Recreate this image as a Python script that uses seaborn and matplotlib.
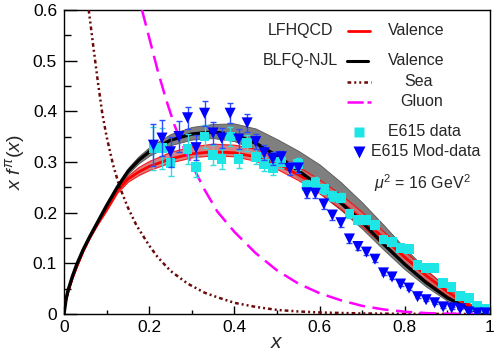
import numpy as np
import pandas as pd
import matplotlib
matplotlib.use("Agg")
import matplotlib.pyplot as plt
import seaborn as sns
from matplotlib.lines import Line2D

# ---------------- data ----------------
x_curve = [0, 0.005, 0.01, 0.02, 0.03, 0.045, 0.06, 0.08, 0.1, 0.125, 0.15, 0.175, 0.2,
           0.25, 0.3, 0.35, 0.4, 0.45, 0.5, 0.55, 0.6, 0.65, 0.7, 0.75, 0.8, 0.85, 0.9, 0.95, 1.0]
blfq_val = [0.0, 0.03, 0.048, 0.075, 0.098, 0.127, 0.152, 0.183, 0.214, 0.25, 0.281, 0.303, 0.32,
            0.343, 0.355, 0.359, 0.354, 0.337, 0.312, 0.283, 0.252, 0.219, 0.181, 0.138, 0.098,
            0.062, 0.032, 0.01, 0.0]
blfq_lo = [0.0, 0.03, 0.048, 0.075, 0.098, 0.127, 0.152, 0.182, 0.212, 0.246, 0.276, 0.297, 0.312,
           0.333, 0.344, 0.347, 0.341, 0.323, 0.298, 0.269, 0.238, 0.205, 0.168, 0.127, 0.088,
           0.054, 0.026, 0.007, 0.0]
blfq_hi = [0.0, 0.03, 0.048, 0.075, 0.098, 0.128, 0.155, 0.187, 0.219, 0.256, 0.288, 0.311, 0.329,
           0.355, 0.369, 0.375, 0.376, 0.366, 0.345, 0.322, 0.295, 0.26, 0.22, 0.176, 0.13,
           0.088, 0.05, 0.019, 0.0]
lfh_val = [0.01, 0.03, 0.046, 0.072, 0.094, 0.124, 0.15, 0.18, 0.207, 0.243, 0.266, 0.28, 0.291,
           0.306, 0.316, 0.32, 0.318, 0.31, 0.295, 0.275, 0.25, 0.221, 0.187, 0.15, 0.112,
           0.076, 0.044, 0.017, 0.0]
lfh_lo = [0.01, 0.03, 0.046, 0.072, 0.094, 0.124, 0.149, 0.178, 0.204, 0.239, 0.261, 0.274, 0.284,
          0.299, 0.309, 0.313, 0.311, 0.302, 0.286, 0.264, 0.238, 0.207, 0.173, 0.136, 0.099,
          0.066, 0.036, 0.012, 0.0]
lfh_hi = [0.01, 0.03, 0.046, 0.072, 0.094, 0.125, 0.152, 0.183, 0.211, 0.248, 0.273, 0.29, 0.302,
          0.32, 0.331, 0.336, 0.334, 0.326, 0.312, 0.291, 0.265, 0.236, 0.201, 0.163, 0.124,
          0.086, 0.052, 0.022, 0.0]

x_sea = [0.058, 0.07, 0.08, 0.09, 0.1, 0.115, 0.13, 0.15, 0.17, 0.2, 0.22, 0.25, 0.29, 0.33,
         0.36, 0.4, 0.45, 0.5, 0.55, 0.6, 0.7, 0.8, 0.9, 1.0]
sea = [0.6, 0.52, 0.455, 0.395, 0.35, 0.295, 0.252, 0.21, 0.175, 0.135, 0.112, 0.085, 0.06,
       0.042, 0.033, 0.022, 0.014, 0.008, 0.005, 0.003, 0.001, 0.0003, 0.0001, 0.0]

x_glu = [0.183, 0.2, 0.22, 0.24, 0.26, 0.28, 0.3, 0.33, 0.36, 0.4, 0.45, 0.5, 0.55, 0.6,
         0.65, 0.7, 0.75, 0.8, 0.85, 0.9, 0.95, 1.0]
gluon = [0.6, 0.545, 0.48, 0.422, 0.371, 0.33, 0.295, 0.245, 0.202, 0.162, 0.12, 0.086, 0.06,
         0.041, 0.027, 0.016, 0.009, 0.0045, 0.0018, 0.0005, 0.0, 0.0]

x_e615 = [0.21, 0.23, 0.25, 0.29, 0.31, 0.33, 0.35, 0.37, 0.39, 0.41, 0.43, 0.45, 0.47, 0.49,
          0.51, 0.55, 0.57, 0.59, 0.61, 0.63, 0.65, 0.67, 0.69, 0.71, 0.73, 0.75, 0.77, 0.79,
          0.81, 0.83, 0.85, 0.87, 0.89, 0.91, 0.93, 0.95, 0.97, 0.99]
y_e615 = [0.327, 0.327, 0.298, 0.325, 0.29, 0.35, 0.314, 0.306, 0.35, 0.306, 0.337, 0.31, 0.296,
          0.288, 0.3, 0.296, 0.253, 0.259, 0.247, 0.233, 0.229, 0.198, 0.186, 0.185, 0.176,
          0.147, 0.142, 0.13, 0.128, 0.097, 0.091, 0.091, 0.061, 0.053, 0.035, 0.031, 0.016, 0.011]
e_e615 = [0.042, 0.04, 0.025, 0.03, 0.02, 0.022, 0.02, 0.02, 0.018, 0.018, 0.016, 0.015, 0.014,
          0.013, 0.012, 0.012, 0.011, 0.011, 0.01, 0.01, 0.009, 0.009, 0.008, 0.008, 0.008,
          0.007, 0.007, 0.006, 0.006, 0.005, 0.005, 0.005, 0.004, 0.004, 0.004, 0.003, 0.003, 0.003]

x_mod = [0.21, 0.23, 0.25, 0.27, 0.29, 0.31, 0.33, 0.35, 0.37, 0.39, 0.41, 0.43, 0.45, 0.47,
         0.49, 0.51, 0.53, 0.55, 0.57, 0.59, 0.61, 0.63, 0.65, 0.67, 0.69, 0.71, 0.73, 0.75,
         0.77, 0.79, 0.81, 0.83, 0.85, 0.87, 0.89, 0.91, 0.93, 0.95, 0.97, 0.99]
y_mod = [0.333, 0.347, 0.32, 0.35, 0.387, 0.328, 0.396, 0.357, 0.347, 0.396, 0.345, 0.377, 0.34,
         0.318, 0.306, 0.31, 0.287, 0.288, 0.239, 0.238, 0.217, 0.195, 0.18, 0.148, 0.133,
         0.122, 0.108, 0.081, 0.073, 0.059, 0.051, 0.034, 0.028, 0.022, 0.014, 0.012, 0.01,
         0.004, 0.002, 0.002]
e_mod = [0.042, 0.035, 0.03, 0.03, 0.022, 0.025, 0.025, 0.022, 0.02, 0.02, 0.02, 0.018, 0.015,
         0.015, 0.013, 0.012, 0.012, 0.01, 0.01, 0.01, 0.01, 0.01, 0.008, 0.008, 0.006, 0.006,
         0.005, 0.005, 0.004, 0.004, 0.003, 0.003, 0.002, 0.002, 0.002, 0.002, 0.001, 0.001,
         0.001, 0.001]

x_ticks = [0, 0.2, 0.4, 0.6, 0.8, 1]
x_ticklabels = ["0", "0.2", "0.4", "0.6", "0.8", "1"]
y_ticks = [0, 0.1, 0.2, 0.3, 0.4, 0.5, 0.6]
y_ticklabels = ["0", "0.1", "0.2", "0.3", "0.4", "0.5", "0.6"]

# ---------------- style ----------------
sns.set_theme(style="ticks")
plt.rcParams["font.family"] = ["Liberation Sans", "DejaVu Sans"]
plt.rcParams["mathtext.fontset"] = "custom"
plt.rcParams["mathtext.rm"] = "Liberation Sans"
plt.rcParams["mathtext.it"] = "Liberation Sans:italic"

fig = plt.figure(figsize=(5.0, 3.52), dpi=100)
ax = fig.add_axes([0.128, 0.108, 0.852, 0.864])

curves = pd.DataFrame({"x": x_curve, "blfq": blfq_val, "blfq_lo": blfq_lo, "blfq_hi": blfq_hi,
                       "lfh": lfh_val, "lfh_lo": lfh_lo, "lfh_hi": lfh_hi})

# bands
ax.fill_between(curves["x"], curves["blfq_lo"], curves["blfq_hi"], color="#7f7f7f",
                edgecolor="#555555", lw=0.6, zorder=1)
ax.fill_between(curves["x"], curves["lfh_lo"], curves["lfh_hi"], color="#d46a6a",
                alpha=0.85, edgecolor="#ff0000", lw=0.8, zorder=2)

# curves
sns.lineplot(data=curves, x="x", y="lfh", ax=ax, color="#ff0000", lw=2.0, zorder=3)
sns.lineplot(data=curves, x="x", y="blfq", ax=ax, color="black", lw=2.4, zorder=4)
sns.lineplot(x=x_sea, y=sea, ax=ax, color="#6b0a0a", lw=1.8,
             linestyle=(0, (1.5, 1.2, 0.8, 1.2, 0.8, 1.2)), zorder=3)
sns.lineplot(x=x_glu, y=gluon, ax=ax, color="#ff00ff", lw=1.8,
             linestyle=(0, (6.5, 3.0)), zorder=3)

# data
ax.errorbar(x_e615, y_e615, yerr=e_e615, fmt="none", ecolor="#33dddd", elinewidth=1.0,
            capsize=2, capthick=1.0, zorder=5)
sns.scatterplot(x=x_e615, y=y_e615, ax=ax, marker="s", s=48, color="#1fe6e6",
                edgecolor="none", zorder=6)
ax.errorbar(x_mod, y_mod, yerr=e_mod, fmt="none", ecolor="#2a4dff", elinewidth=1.0,
            capsize=2, capthick=1.0, zorder=7)
sns.scatterplot(x=x_mod, y=y_mod, ax=ax, marker="v", s=64, color="#0000ff",
                edgecolor="none", zorder=8)

# axes
ax.set_xlim(0, 1)
ax.set_ylim(0, 0.6)
ax.set_xticks(x_ticks)
ax.set_xticklabels(x_ticklabels)
ax.set_yticks(y_ticks)
ax.set_yticklabels(y_ticklabels)
ax.set_xticks(np.arange(0.1, 1.0, 0.2), minor=True)
ax.set_yticks(np.arange(0.05, 0.6, 0.1), minor=True)
ax.tick_params(axis="both", which="both", direction="in", labelsize=12.5, colors="black",
               width=1.0)
ax.tick_params(axis="y", which="major", length=9, pad=5)
ax.tick_params(axis="y", which="minor", length=5)
ax.tick_params(axis="x", which="major", length=6, pad=4)
ax.tick_params(axis="x", which="minor", length=3)
for s in ax.spines.values():
    s.set_color("black")
    s.set_linewidth(1.0)
ax.set_xlabel(r"$x$", fontsize=15, labelpad=-1)
ax.set_ylabel(r"$x\ f^{\pi}(x)$", fontsize=14, labelpad=4)

# legend (manual)
tr = ax.transAxes
fs = 11.5
def ax_x(px):
    return (px - 64.3) / 425.7
def ax_y(py):
    return (314 - py) / 304.0

ax.text(ax_x(333), ax_y(31), "LFHQCD", transform=tr, ha="right", va="center", fontsize=fs)
ax.add_line(Line2D([ax_x(348), ax_x(370)], [ax_y(31)] * 2, transform=tr, color="#ff0000", lw=2.0))
ax.text(ax_x(388), ax_y(31), "Valence", transform=tr, ha="left", va="center", fontsize=fs)

ax.text(ax_x(338), ax_y(61), "BLFQ-NJL", transform=tr, ha="right", va="center", fontsize=fs)
ax.add_line(Line2D([ax_x(347), ax_x(368)], [ax_y(61)] * 2, transform=tr, color="black", lw=2.2))
ax.text(ax_x(388), ax_y(61), "Valence", transform=tr, ha="left", va="center", fontsize=fs)

ax.add_line(Line2D([ax_x(347), ax_x(371)], [ax_y(82)] * 2, transform=tr, color="#6b0a0a", lw=1.8,
                   linestyle=(0, (1.5, 1.2, 0.8, 1.2, 0.8, 1.2))))
ax.text(ax_x(404), ax_y(82), "Sea", transform=tr, ha="left", va="center", fontsize=fs)

ax.add_line(Line2D([ax_x(347), ax_x(371)], [ax_y(102)] * 2, transform=tr, color="#ff00ff", lw=1.8,
                   linestyle=(0, (6.5, 1.5))))
ax.text(ax_x(400), ax_y(102), "Gluon", transform=tr, ha="left", va="center", fontsize=fs)

ax.add_line(Line2D([ax_x(359)], [ax_y(132)], transform=tr, marker="s", ms=7.5, color="#1fe6e6",
                   mec="none", lw=0))
ax.text(ax_x(388), ax_y(132), "E615 data", transform=tr, ha="left", va="center", fontsize=fs)
ax.add_line(Line2D([ax_x(359)], [ax_y(152)], transform=tr, marker="v", ms=8, color="#0000ff",
                   mec="none", lw=0))
ax.text(ax_x(371), ax_y(152), "E615 Mod-data", transform=tr, ha="left", va="center", fontsize=fs)

ax.text(ax_x(374), ax_y(183), r"$\mu^2$ = 16 GeV$^2$", transform=tr, ha="left", va="center",
        fontsize=fs)

if ax.get_legend() is not None:
    ax.get_legend().remove()

fig.savefig("out.png", dpi=100)
